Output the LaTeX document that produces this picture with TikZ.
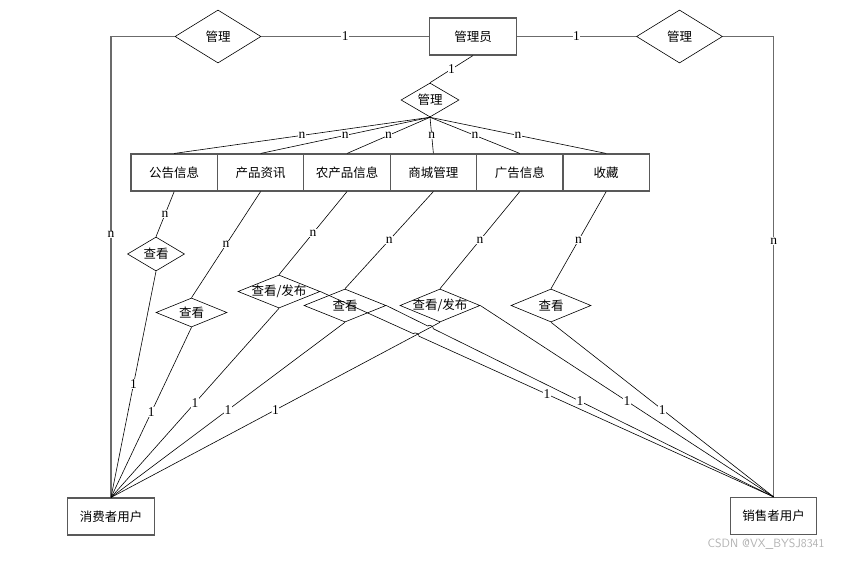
\documentclass[tikz,border=0pt]{standalone}
\usepackage{fontspec}
\setmainfont{Liberation Serif}
\newfontfamily\cjk{Noto Sans CJK SC}
\usetikzlibrary{shapes.geometric,calc,intersections}
\definecolor{boxgray}{rgb}{0.35,0.35,0.35}
\definecolor{linegray}{rgb}{0.42,0.42,0.42}
\begin{document}
\begin{tikzpicture}[x=1pt,y=-1pt,
  ent/.style={draw=boxgray, line width=1.1pt, rectangle, minimum width=86.4pt, minimum height=37pt, inner sep=0pt, font=\cjk\fontsize{12.5}{13}\selectfont},
  rel/.style={draw=black, line width=0.6pt, diamond, inner sep=0pt, font=\cjk\fontsize{12.5}{13}\selectfont},
  ln/.style={draw=black, line width=0.6pt},
  outer/.style={draw=linegray, line width=1.2pt},
  lab/.style={fill=white, inner sep=0.6pt, font=\fontsize{13.5}{14}\selectfont}
]
\useasboundingbox (0,0) rectangle (846,560);

% top
\node[ent] (admin) at (473,36.5) {管理员};
\node[rel, minimum width=86pt, minimum height=53pt] (dl) at (218,36.5) {\makebox[0pt]{管理}};
\node[rel, minimum width=86pt, minimum height=53pt] (dr) at (679.5,36.5) {\makebox[0pt]{管理}};
\node[rel, minimum width=58pt, minimum height=34pt] (dm) at (430,100) {\makebox[0pt]{管理}};

% entity row
\node[ent] (e1) at (174.2,172.5) {公告信息};
\node[ent] (e2) at (260.6,172.5) {产品资讯};
\node[ent] (e3) at (347.0,172.5) {农产品信息};
\node[ent] (e4) at (433.4,172.5) {商城管理};
\node[ent] (e5) at (519.8,172.5) {广告信息};
\node[ent] (e6) at (606.2,172.5) {收藏};

% lower relations
\node[rel, minimum width=57pt, minimum height=34pt] (q1) at (156,254) {\makebox[0pt]{查看}};
\node[rel, minimum width=71pt, minimum height=29pt] (q2) at (191.5,312.5) {\makebox[0pt]{查看}};
\node[rel, minimum width=82pt, minimum height=33pt] (q3) at (279,291.5) {\makebox[0pt]{查看/发布}};
\node[rel, minimum width=82pt, minimum height=33pt] (q4) at (345,305.5) {\makebox[0pt]{查看}};
\node[rel, minimum width=80pt, minimum height=33pt] (q5) at (440,305.5) {\makebox[0pt]{查看/发布}};
\node[rel, minimum width=80pt, minimum height=33pt] (q6) at (551,305.5) {\makebox[0pt]{查看}};

% users
\node[ent] (cu) at (111,516.5) {消费者用户};
\node[ent] (su) at (773.7,516) {销售者用户};

% top connectors
\draw[outer] (dl.east) -- node[lab] (l1) {1} (admin.west);
\draw[outer] (admin.east) -- node[lab] (l2) {1} (dr.west);
\draw[outer] (dl.west) -| node[lab, pos=0.715] (l3) {n} (cu.north);
\draw[outer] (dr.east) -| node[lab, pos=0.722] (l4) {n} (su.north);
\draw[ln] (admin.south) -- node[lab] (l5) {1} (dm.north);

% manage -> entities
\draw[ln] (dm.south) -- node[lab] (m1) {n} (e1.north);
\draw[ln] (dm.south) -- node[lab] (m2) {n} (e2.north);
\draw[ln] (dm.south) -- node[lab] (m3) {n} (e3.north);
\draw[ln] (dm.south) -- node[lab] (m4) {n} (e4.north);
\draw[ln] (dm.south) -- node[lab] (m5) {n} (e5.north);
\draw[ln] (dm.south) -- node[lab] (m6) {n} (e6.north);

% entities -> lower relations
\draw[ln] (e1.south) -- node[lab] (k1) {n} (q1.north);
\draw[ln] (e2.south) -- node[lab] (k2) {n} (q2.north);
\draw[ln] (e3.south) -- node[lab] (k3) {n} (q3.north);
\draw[ln] (e4.south) -- node[lab] (k4) {n} (q4.north);
\draw[ln] (e5.south) -- node[lab] (k5) {n} (q5.north);
\draw[ln] (e6.south) -- node[lab] (k6) {n} (q6.north);

% to consumer
\draw[ln] (q1.south) -- node[lab] (c1) {1} (cu.north);
\draw[ln] (q2.south) -- node[lab] (c2) {1} (cu.north);
\draw[ln] (q3.south) -- node[lab] (c3) {1} (cu.north);
\draw[ln] (q4.south) -- node[lab] (c4) {1} (cu.north);
\draw[ln, name path=lc] (q5.south) -- node[lab] (c5) {1} (cu.north);

% to seller (with line hops over the consumer line)
\path[name path=la] (q3.east) -- (su.north);
\path[name path=lb] (q4.east) -- (su.north);
\path[name intersections={of=la and lc, by=pa}];
\path[name intersections={of=lb and lc, by=pb}];
\draw[ln] (q3.east) -- ($(pa)!3pt!(q3.east)$) to[bend left=90] ($(pa)!3pt!(su.north)$) -- (su.north);
\draw[ln] (q4.east) -- ($(pb)!3pt!(q4.east)$) to[bend left=90] ($(pb)!3pt!(su.north)$) -- (su.north);
\node[lab] (s1) at ($(q3.east)!0.5!(su.north)$) {1};
\node[lab] (s2) at ($(q4.east)!0.5!(su.north)$) {1};
\draw[ln] (q5.east) -- node[lab] (s3) {1} (su.north);
\draw[ln] (q6.south) -- node[lab] (s4) {1} (su.north);

% watermark
\node[text=black!30, font=\sffamily\fontsize{12}{12}\selectfont, anchor=east] (wm) at (828,544) {CSDN @VX\_BYSJ8341};
\end{tikzpicture}
\end{document}
